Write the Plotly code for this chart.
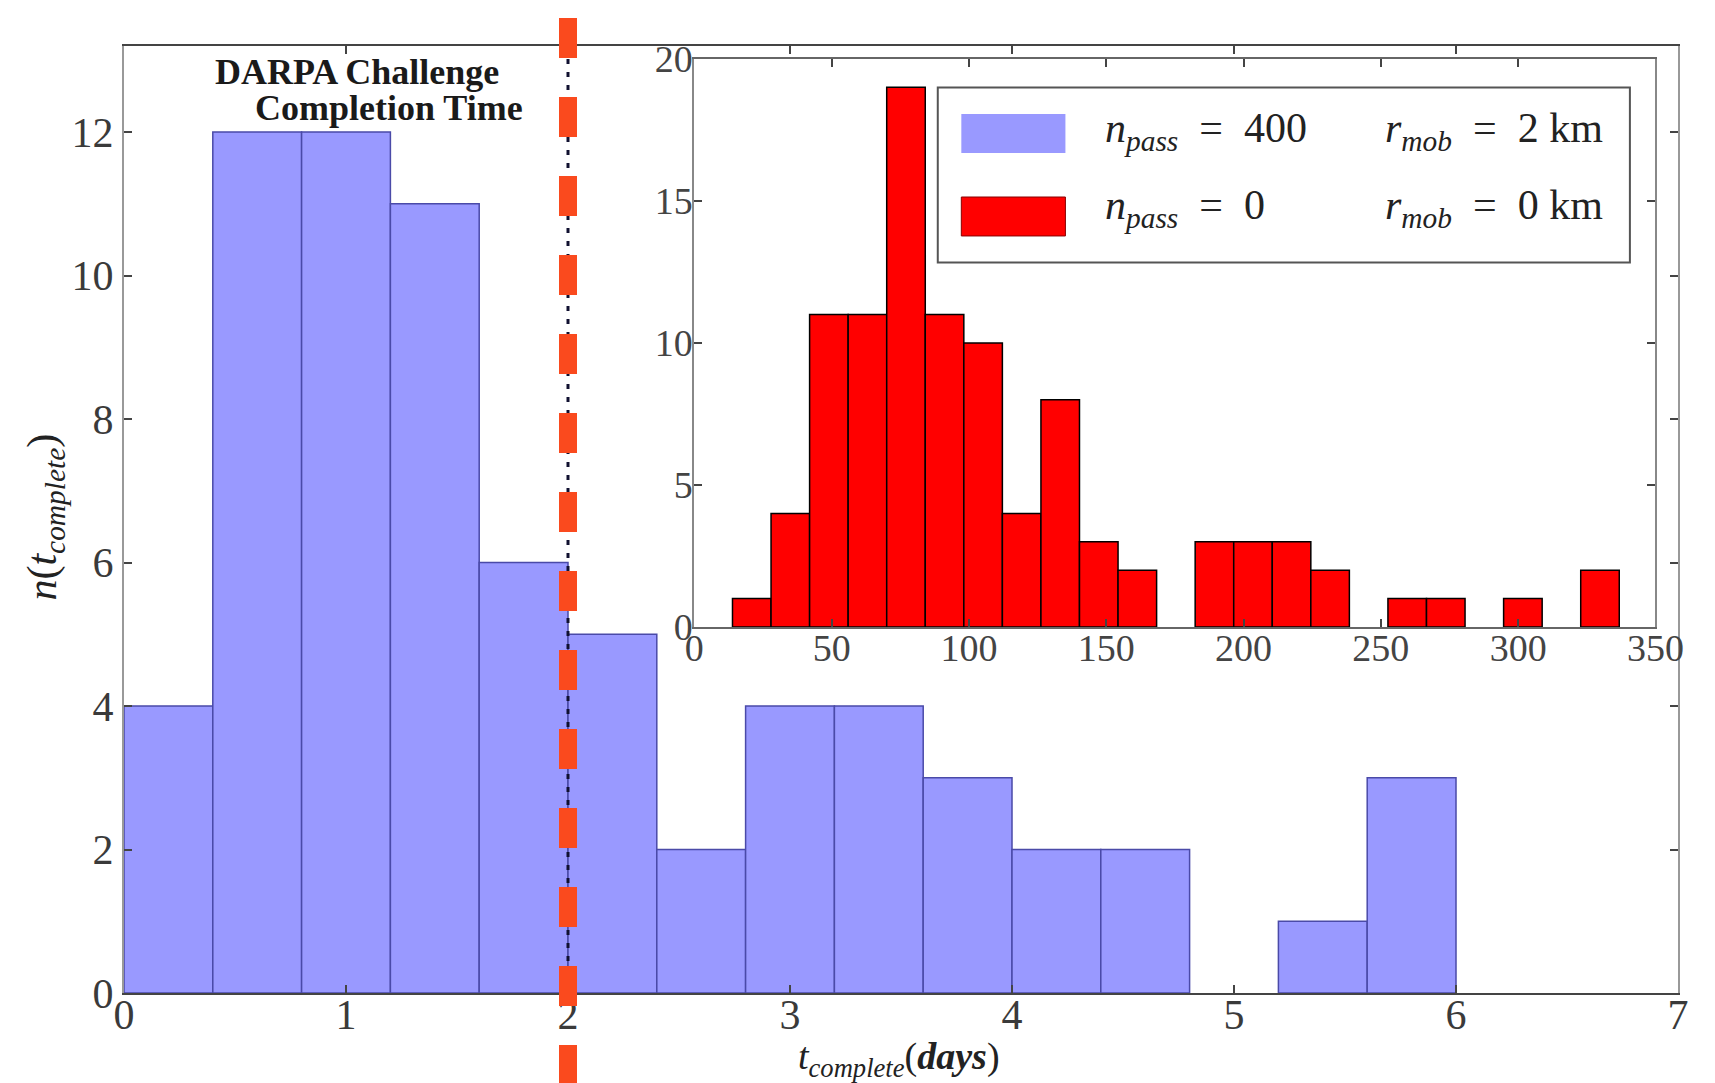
import plotly.graph_objects as go

# Main histogram: completion time in days (bin edges and counts)
main_edges = [0.0, 0.4, 0.8, 1.2, 1.6, 2.0, 2.4, 2.8, 3.2, 3.6, 4.0, 4.4, 4.8, 5.2, 5.6, 6.0]
main_counts = [4, 12, 12, 11, 6, 5, 2, 4, 4, 3, 2, 2, 0, 1, 3]

# Inset histogram: no passing, no mobility
inset_edges = [13.9, 27.94, 41.98, 56.02, 70.06, 84.1, 98.14, 112.18, 126.22, 140.26,
               154.3, 168.34, 182.38, 196.42, 210.46, 224.5, 238.54, 252.58, 266.62,
               280.66, 294.7, 308.74, 322.78, 336.82]
inset_counts = [1, 4, 11, 11, 19, 11, 10, 4, 8, 3, 2, 0, 3, 3, 3, 2, 0, 1, 1, 0, 1, 0, 2]

darpa_time = 2.0  # days

main_xticks = [0, 1, 2, 3, 4, 5, 6, 7]
main_yticks = [0, 2, 4, 6, 8, 10, 12]
inset_xticks = [0, 50, 100, 150, 200, 250, 300, 350]
inset_yticks = [0, 5, 10, 15, 20]

FONT = "Liberation Serif"
BLUE = "#9999ff"
BLUE_EDGE = "#4a4aa8"
RED = "#ff0000"
DASH_RED = "#fa4a1e"


def centers(edges):
    return [(a + b) / 2 for a, b in zip(edges[:-1], edges[1:])]


def widths(edges):
    return [b - a for a, b in zip(edges[:-1], edges[1:])]


def edge_widths(counts, w):
    # empty bins get no outline
    return [w if c > 0 else 0 for c in counts]


fig = go.Figure()

fig.add_trace(go.Bar(
    x=centers(main_edges), y=main_counts, width=widths(main_edges),
    marker=dict(color=BLUE, line=dict(color=BLUE_EDGE, width=edge_widths(main_counts, 1.5))),
    xaxis="x", yaxis="y", showlegend=False, hoverinfo="skip",
))

fig.add_trace(go.Bar(
    x=centers(inset_edges), y=inset_counts, width=widths(inset_edges),
    marker=dict(color=RED, line=dict(color="#000000", width=edge_widths(inset_counts, 1.5))),
    xaxis="x2", yaxis="y2", showlegend=False, hoverinfo="skip",
))

axis_common = dict(
    showgrid=False, zeroline=False, showline=True, mirror="ticks",
    ticks="inside", ticklen=8, tickwidth=1.5, tickcolor="#444444",
    fixedrange=True,
)
main_tick_font = dict(family=FONT, size=42, color="#3a3a3a")
inset_tick_font = dict(family=FONT, size=38, color="#444444")

fig.update_layout(
    width=1715, height=1083,
    margin=dict(l=124, r=8, t=46, b=90),
    paper_bgcolor="white", plot_bgcolor="white",
    barmode="overlay",
    xaxis=dict(domain=[0, 1], range=[0, 7], tickvals=main_xticks, tickfont=main_tick_font,
               ticklabelstandoff=-16,
               linecolor="#444444", linewidth=2, anchor="y", **axis_common),
    yaxis=dict(domain=[0, 1], range=[0, 13.2], tickvals=main_yticks, tickfont=main_tick_font,
               linecolor="#999999", linewidth=2, anchor="x", **axis_common),
    xaxis2=dict(domain=[0.367, 0.9855], range=[0, 350], tickvals=inset_xticks,
                tickfont=inset_tick_font, ticklabelstandoff=-14,
                linecolor="#666666", linewidth=2, anchor="y2", **axis_common),
    yaxis2=dict(domain=[0.3865, 0.9863], range=[0, 20], tickvals=inset_yticks,
                tickfont=inset_tick_font, ticklabelstandoff=-8,
                linecolor="#888888", linewidth=2, anchor="x2", **axis_common),
)

# Dotted marker of the DARPA completion time inside the main axes
fig.add_shape(type="line", xref="x", yref="paper", x0=darpa_time, x1=darpa_time,
              y0=1, y1=0, line=dict(color="#101030", width=3, dash="5px,8px"))
# Thick dashed line extending past the axes
fig.add_shape(type="line", xref="x", yref="paper", x0=darpa_time, x1=darpa_time,
              y0=1.0296, y1=-0.1, line=dict(color=DASH_RED, width=18, dash="40px,39px"))

# Legend drawn inside the inset axes
fig.add_shape(type="rect", xref="x2 domain", yref="y2 domain",
              x0=0.2533, x1=0.9734, y0=0.6417, y1=0.9498,
              line=dict(color="#555555", width=2), fillcolor="white")
fig.add_shape(type="rect", xref="x2 domain", yref="y2 domain",
              x0=0.2778, x1=0.3861, y0=0.8345, y1=0.9032,
              line=dict(width=0), fillcolor=BLUE)
fig.add_shape(type="rect", xref="x2 domain", yref="y2 domain",
              x0=0.2778, x1=0.3861, y0=0.6884, y1=0.7570,
              line=dict(color="#880000", width=1), fillcolor=RED)

legend_font = dict(family=FONT, size=42, color="#222222")
EQ = "&nbsp;&nbsp;=&nbsp;&nbsp;"
legend_rows = [
    (0.8732, f"<i>n</i><sub><i>pass</i></sub>{EQ}400", f"<i>r</i><sub><i>mob</i></sub>{EQ}2 km"),
    (0.7377, f"<i>n</i><sub><i>pass</i></sub>{EQ}0", f"<i>r</i><sub><i>mob</i></sub>{EQ}0 km"),
]
for yy, left_txt, right_txt in legend_rows:
    fig.add_annotation(xref="x2 domain", yref="y2 domain", x=0.4249, y=yy,
                       text=left_txt, showarrow=False, xanchor="left", yanchor="middle",
                       font=legend_font)
    fig.add_annotation(xref="x2 domain", yref="y2 domain", x=0.9479, y=yy,
                       text=right_txt, showarrow=False, xanchor="right", yanchor="middle",
                       font=legend_font)

# Label for the dashed line
label_font = dict(family=FONT, size=36, color="#1a1a1a")
fig.add_annotation(xref="paper", yref="paper", x=0.0575, y=0.9725, text="<b>DARPA Challenge</b>",
                   showarrow=False, xanchor="left", yanchor="middle", font=label_font)
fig.add_annotation(xref="paper", yref="paper", x=0.0828, y=0.9345, text="<b>Completion Time</b>",
                   showarrow=False, xanchor="left", yanchor="middle", font=label_font)

# Axis titles
fig.add_annotation(xref="paper", yref="paper", x=0.4984, y=-0.07,
                   text="<i>t</i><sub><i>complete</i></sub>(<b><i>days</i></b>)",
                   showarrow=False, xanchor="center", yanchor="middle",
                   font=dict(family=FONT, size=38, color="#222222"))
fig.add_annotation(xref="paper", yref="paper", x=-0.0505, y=0.5026,
                   text="<i>n</i>(<i>t</i><sub><i>complete</i></sub>)", textangle=-90,
                   showarrow=False, xanchor="center", yanchor="middle",
                   font=dict(family=FONT, size=42, color="#222222"))

fig.write_html("out.html")
